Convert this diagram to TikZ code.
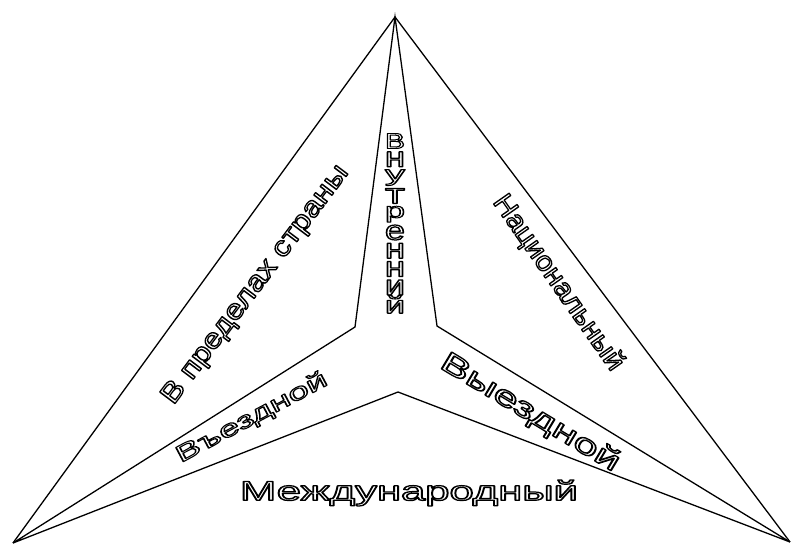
\documentclass[tikz,border=0pt]{standalone}
\usepackage{fontspec}
\usepackage{graphicx}
\setmainfont{Liberation Sans}
% hollow WordArt-like letters: white fill, black stroke
\newcommand{\watext}[3]{\resizebox*{#1}{#2}{\special{pdf:literal direct 2 Tr 0.45 w 1 g 0 G 1 j}#3\special{pdf:literal direct 0 Tr 0 g}}}

\begin{document}
\begin{tikzpicture}[
    x=1pt, y=-1pt,
    edge/.style={line width=1.3pt, line join=miter},
    wordart/.style={inner sep=0pt}
]
\useasboundingbox (0,0) rectangle (791,545);

\coordinate (top) at (395,17);
\coordinate (bl) at (13,543);
\coordinate (br) at (790,542);
\coordinate (inl) at (355,327);
\coordinate (inr) at (437,326);
\coordinate (inb) at (398,392);

\draw[edge] (bl) -- (top) -- (br);
\draw[edge] (top) -- (inl) -- (bl) -- (inb) -- (br) -- (inr) -- cycle;

\node[wordart, rotate=53] (strany) at (256,285) {\watext{292pt}{25pt}{В пределах страны}};
\node[wordart, rotate=-55] (nats) at (558,283) {\watext{208pt}{26pt}{Национальный}};
\node[wordart, rotate=28] (vjezd) at (252,418) {\watext{168pt}{22pt}{Въездной}};
\node[wordart, rotate=-31] (vyezd) at (530,413) {\watext{204pt}{27pt}{Выездной}};
\node[wordart] (mezhd) at (409,493) {\watext{338pt}{26pt}{Международный}};

\foreach \ch/\h/\dy [count=\i] in {В/15/0,н/15/0,у/16/0,т/15/0,р/16/0,е/15/0,н/15/0,н/15/0,и/15/0,й/18/-1.5}
  \node[wordart] (vn\i) at (395,{141+18.3*(\i-1)+\dy}) {\watext{20pt}{\h pt}{\ch}};
\end{tikzpicture}
\end{document}
